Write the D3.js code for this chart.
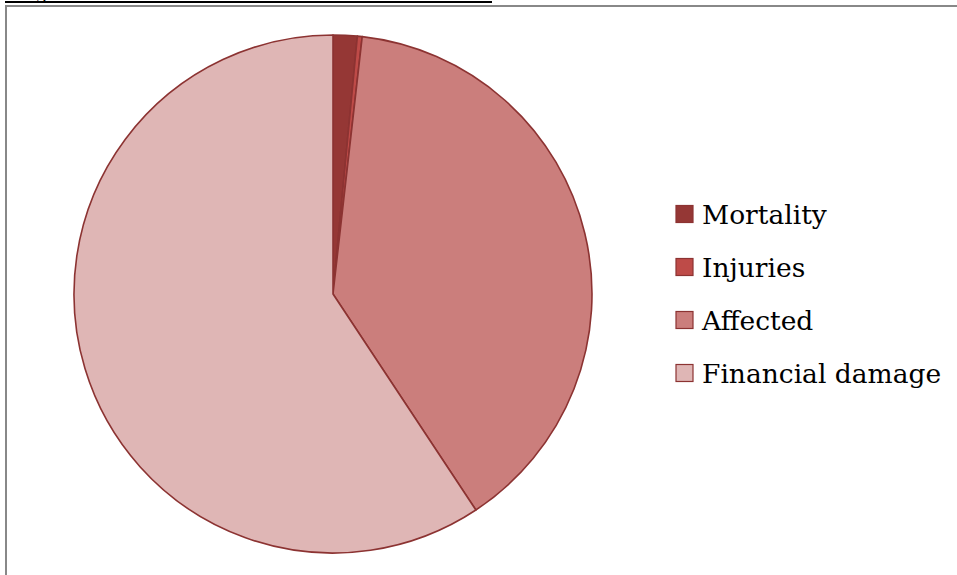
<!DOCTYPE html>
<html>
<head>
<meta charset="utf-8">
<script src="https://cdn.jsdelivr.net/npm/d3@7"></script>
<style>
  body { margin: 0; background: #fff; }
  svg { display: block; }
</style>
</head>
<body>
<div id="chart"></div>
<script>
// data
const categories = ["Mortality", "Injuries", "Affected", "Financial damage"];
const shares = [1.5, 0.3, 38.9, 59.3];
const colors = ["#953735", "#BE4B48", "#CB7E7C", "#DFB6B5"];

const width = 957, height = 575;

const svg = d3.select("#chart").append("svg")
    .attr("width", width)
    .attr("height", height);

// caption, mostly above the visible area + underline
svg.append("text")
    .attr("x", 15)
    .attr("y", -1)
    .attr("font-family", "DejaVu Serif")
    .attr("font-size", 20)
    .attr("fill", "#000")
    .text("Fig");
svg.append("line")
    .attr("x1", 5).attr("x2", 492)
    .attr("y1", 2).attr("y2", 2)
    .attr("stroke", "#000")
    .attr("stroke-width", 2);

// chart frame
svg.append("rect")
    .attr("x", 6).attr("y", 6)
    .attr("width", width + 10).attr("height", height + 10)
    .attr("fill", "none")
    .attr("stroke", "#888")
    .attr("stroke-width", 2);

// == PIE == //
const cx = 333, cy = 294, radius = 259;

const pie = d3.pie().sort(null).value(d => d.value);
const arc = d3.arc().innerRadius(0).outerRadius(radius);

const data = categories.map((c, i) => ({name: c, value: shares[i], color: colors[i]}));

svg.append("g")
    .attr("transform", `translate(${cx}, ${cy})`)
    .selectAll("path")
    .data(pie(data))
    .enter().append("path")
    .attr("d", arc)
    .attr("fill", d => d.data.color)
    .attr("stroke", "#8C3332")
    .attr("stroke-width", 1.6)
    .attr("stroke-linejoin", "round");

// == LEGEND == //
const legendY = d3.scalePoint()
    .domain(categories)
    .range([214, 373]);

const legend = svg.append("g").attr("class", "legend");

const items = legend.selectAll("g")
    .data(data)
    .enter().append("g")
    .attr("transform", d => `translate(676, ${legendY(d.name)})`);

items.append("rect")
    .attr("x", 0).attr("y", -8.5)
    .attr("width", 17).attr("height", 17)
    .attr("fill", d => d.color)
    .attr("stroke", "#8C3332")
    .attr("stroke-width", 1.2);

items.append("text")
    .attr("x", 26)
    .attr("y", 9.5)
    .attr("font-family", "DejaVu Serif")
    .attr("font-size", 26.5)
    .attr("fill", "#000")
    .text(d => d.name);
</script>
</body>
</html>
